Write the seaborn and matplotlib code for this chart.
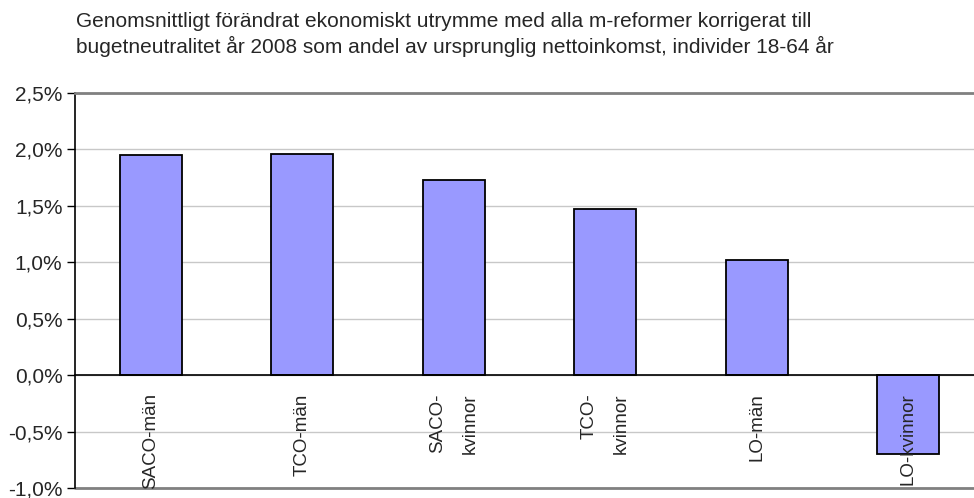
import matplotlib
matplotlib.use("Agg")
import matplotlib.pyplot as plt
from matplotlib.ticker import FuncFormatter, MultipleLocator
import seaborn as sns
import pandas as pd

# Values (percent of original net income)
categories = ["SACO-män", "TCO-män", "SACO-\nkvinnor", "TCO-\nkvinnor", "LO-män", "LO-kvinnor"]
values = [1.95, 1.96, 1.73, 1.47, 1.02, -0.70]
title = ("Genomsnittligt förändrat ekonomiskt utrymme med alla m-reformer korrigerat till\n"
         "bugetneutralitet år 2008 som andel av ursprunglig nettoinkomst, individer 18-64 år")

df = pd.DataFrame({"grupp": categories, "andel": values})

sns.set_style("white")
plt.rcParams["font.family"] = ["Liberation Sans", "DejaVu Sans"]

fig = plt.figure(figsize=(9.74, 4.98), dpi=100)
ax = fig.add_axes([75 / 974, 10 / 498, 909 / 974, 395 / 498])

sns.barplot(data=df, x="grupp", y="andel", color="#9999FF", saturation=1,
            edgecolor="black", linewidth=1.3, width=0.41, ax=ax, zorder=3)

ax.set_xlim(-0.5, len(categories) - 0.5)
ax.set_ylim(-1.0, 2.5)
ax.yaxis.set_major_locator(MultipleLocator(0.5))
ax.yaxis.set_major_formatter(FuncFormatter(lambda v, p: f"{v:.1f}%".replace(".", ",")))
ax.grid(axis="y", color="#c8c8c8", linewidth=1, zorder=0)
ax.set_axisbelow(True)

# x axis sits on the zero line, ticks between categories
ax.spines["bottom"].set_position(("data", 0))
ax.spines["bottom"].set_color("black")
ax.spines["bottom"].set_linewidth(1.2)
ax.spines["bottom"].set_zorder(4)
ax.set_xticks([i + 0.5 for i in range(len(categories) - 1)])
ax.set_xticklabels([])
ax.tick_params(axis="x", direction="out", length=6, width=1, color="black")
ax.tick_params(axis="y", direction="out", length=6, width=1, color="black",
               labelsize=15, pad=3, left=True)
ax.spines["left"].set_color("black")
ax.spines["left"].set_linewidth(1.2)
ax.spines["right"].set_visible(False)
ax.spines["top"].set_color("#808080")
ax.spines["top"].set_linewidth(2)
ax.axhline(-1.0, color="#808080", linewidth=2, zorder=1, clip_on=False)
ax.set_xlabel("")
ax.set_ylabel("")

for i, lab in enumerate(categories):
    ax.annotate(lab, xy=(i, 0), xytext=(0, -13), textcoords="offset points",
                rotation=90, ha="center", va="top", multialignment="right",
                fontsize=13.5, linespacing=2.2, zorder=5)

fig.text(76 / 974, 1 - 12 / 498, title, ha="left", va="top", fontsize=15,
         linespacing=1.3)

fig.savefig("out.png", dpi=100)
